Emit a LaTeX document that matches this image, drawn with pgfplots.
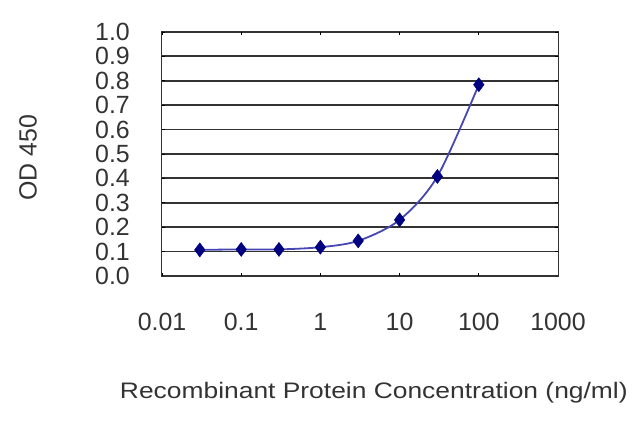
\documentclass[border=0pt]{standalone}
\usepackage{fontspec}
\setmainfont{Liberation Sans}
\usepackage{pgfplots}
\pgfplotsset{compat=1.18}
\definecolor{linec}{RGB}{70,70,180}
\definecolor{markc}{RGB}{0,0,128}
\begin{document}
\begin{tikzpicture}
\useasboundingbox (0,0) rectangle (640bp,427bp);
\begin{axis}[
  at={(162bp,151bp)}, anchor=south west,
  scale only axis, width=396bp, height=244bp,
  xmode=log, xmin=0.01, xmax=1000,
  ymin=0, ymax=1,
  xtick={0.01,0.1,1,10,100,1000},
  xticklabels={0.01,0.1,1,10,100,1000},
  ytick={0,0.1,0.2,0.3,0.4,0.5,0.6,0.7,0.8,0.9,1.0},
  yticklabels={0.0,0.1,0.2,0.3,0.4,0.5,0.6,0.7,0.8,0.9,1.0},
  xminorticks=false,
  ymajorgrids,
  major grid style={color=black!80, line width=1.8bp},
  axis line style={black!80, line width=1bp},
  tick align=inside, major tick length=3bp,
  tick style={black, line width=0.8bp},
  ticklabel style={font=\fontsize{25}{25}\selectfont, text=black!80, inner sep=0pt},
  yticklabel style={anchor=east, xshift=-32bp},
  xticklabel style={anchor=north, yshift=-37bp},
  xlabel={Recombinant Protein Concentration (ng/ml)},
  ylabel={OD 450},
  xlabel style={at={(axis description cs:0.535,-0.48)}, anchor=center, font=\fontsize{26.5}{26.5}\selectfont, yscale=0.85, text=black!80},
  ylabel style={at={(axis description cs:-0.338,0.484)}, anchor=center, rotate=0, font=\fontsize{25}{25}\selectfont, text=black!80},
]
\addplot[color=linec, line width=1.8bp, smooth, tension=0.5,
  mark=diamond*, mark size=7bp, mark options={fill=markc, draw=markc, line width=0.5bp}]
  coordinates {
  (0.03,0.107) (0.1,0.109) (0.3,0.109) (1,0.118) (3,0.144) (10,0.230) (30,0.408) (100,0.784)
  };
\end{axis}
\end{tikzpicture}
\end{document}
